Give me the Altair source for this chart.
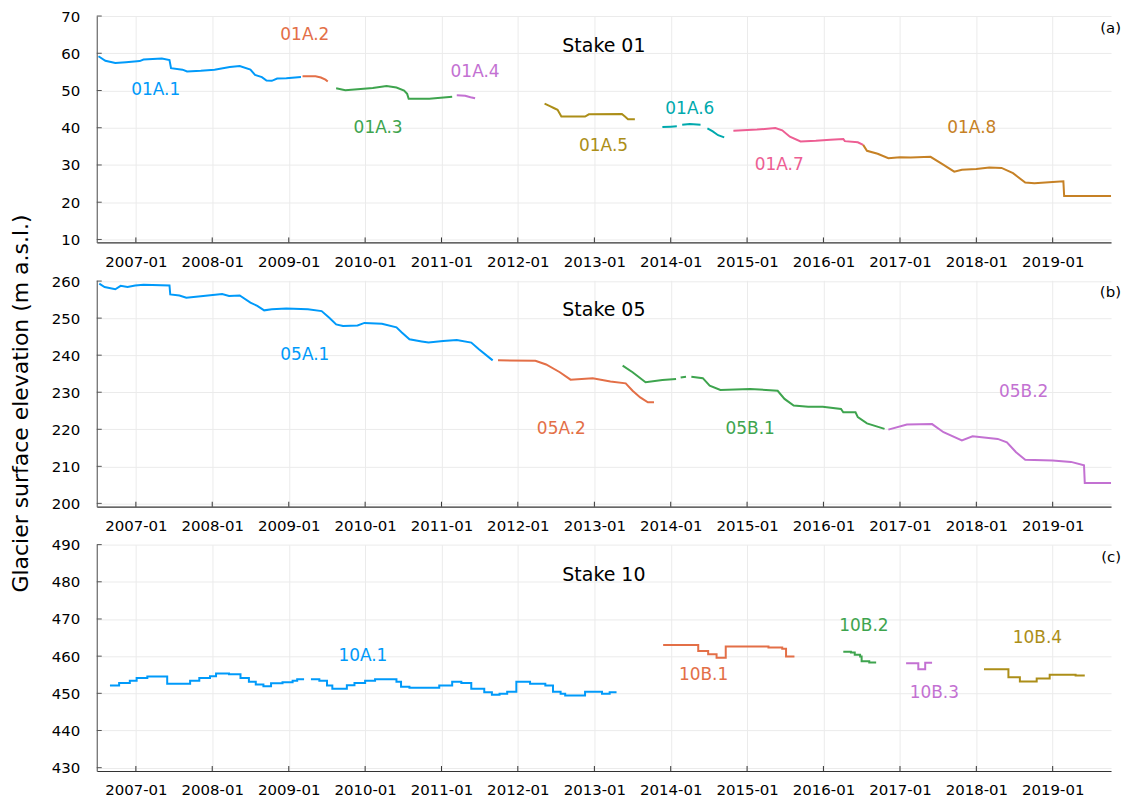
import pandas as pd
import altair as alt

# Plots.jl default palette
palette = ["#009AFA", "#E36F47", "#3EA44E", "#C371D2", "#AC8E18", "#00A9AD", "#ED5E93", "#C68125"]

# time in decimal years, surface elevation in m a.s.l. (None = gap in the record)
# ---- Stake 01
t_01A1 = [2006.51, 2006.60, 2006.73, 2006.87, 2007.05, 2007.10, 2007.34, 2007.44, 2007.46, 2007.61, 2007.67, 2007.85,
          2008.03, 2008.23, 2008.36, 2008.50, 2008.56, 2008.65, 2008.71, 2008.78, 2008.85, 2008.97, 2009.16]
z_01A1 = [59.2, 58.0, 57.4, 57.6, 57.9, 58.3, 58.6, 58.2, 56.0, 55.6, 55.1, 55.3,
          55.6, 56.3, 56.6, 55.6, 54.2, 53.6, 52.7, 52.6, 53.2, 53.3, 53.6]
t_01A2 = [2009.18, 2009.35, 2009.42, 2009.48, 2009.51]
z_01A2 = [53.8, 53.8, 53.5, 52.9, 52.4]
t_01A3 = [2009.62, 2009.74, 2009.94, 2010.10, 2010.28, 2010.41, 2010.51, 2010.55, 2010.57, 2010.84, 2011.14]
z_01A3 = [50.6, 50.1, 50.4, 50.7, 51.2, 50.8, 50.0, 49.1, 47.8, 47.8, 48.3]
t_01A4 = [2011.20, 2011.31, 2011.38, 2011.44]
z_01A4 = [48.7, 48.6, 48.2, 47.9]
t_01A5 = [2012.35, 2012.42, 2012.47, 2012.52, 2012.57, 2012.88, 2012.93, 2013.36, 2013.40, 2013.44, 2013.53]
z_01A5 = [46.5, 45.8, 45.3, 44.8, 43.0, 43.0, 43.6, 43.7, 43.0, 42.3, 42.3]
t_01A6 = [2013.89, 2014.00, 2014.08, 2014.11, 2014.15, 2014.25, 2014.39, 2014.43, 2014.48, 2014.55, 2014.62, 2014.70]
z_01A6 = [40.2, 40.3, 40.4, None, 40.8, 41.0, 40.8, None, 39.8, 39.0, 38.0, 37.4]
t_01A7 = [2014.82, 2015.13, 2015.37, 2015.46, 2015.56, 2015.70, 2015.90, 2016.09, 2016.26, 2016.28, 2016.45, 2016.52]
z_01A7 = [39.2, 39.5, 39.9, 39.3, 37.6, 36.3, 36.5, 36.8, 37.0, 36.4, 36.1, 35.4]
t_01A8 = [2016.52, 2016.57, 2016.71, 2016.85, 2017.00, 2017.14, 2017.40, 2017.55, 2017.71, 2017.81,
          2018.00, 2018.17, 2018.33, 2018.48, 2018.64, 2018.76, 2019.00, 2019.14, 2019.15, 2019.77]
z_01A8 = [35.4, 33.8, 33.0, 31.8, 32.1, 32.0, 32.2, 30.3, 28.2, 28.7,
          28.9, 29.3, 29.2, 27.8, 25.3, 25.1, 25.4, 25.6, 21.7, 21.7]

lab01 = ["01A.1", "01A.2", "01A.3", "01A.4", "01A.5", "01A.6", "01A.7", "01A.8"]
lab01_t = [2007.26, 2009.21, 2010.17, 2011.44, 2013.12, 2014.25, 2015.42, 2017.94]
lab01_z = [50, 65, 40, 55, 35, 45, 30, 40]

# ---- Stake 05
t_05A1 = [2006.52, 2006.59, 2006.73, 2006.80, 2006.89, 2006.99, 2007.10, 2007.44, 2007.45, 2007.57,
          2007.66, 2007.85, 2008.13, 2008.22, 2008.36, 2008.50, 2008.59, 2008.68, 2008.78, 2008.97,
          2009.25, 2009.43, 2009.53, 2009.62, 2009.71, 2009.90, 2009.99, 2010.22, 2010.41, 2010.48,
          2010.58, 2010.74, 2010.83, 2011.02, 2011.20, 2011.39, 2011.49, 2011.67]
z_05A1 = [259.3, 258.4, 257.8, 258.7, 258.4, 258.8, 259.0, 258.8, 256.4, 256.1,
          255.5, 255.9, 256.5, 256.0, 256.1, 254.2, 253.3, 252.1, 252.4, 252.6,
          252.4, 251.9, 250.1, 248.3, 247.9, 248.0, 248.7, 248.5, 247.5, 246.1,
          244.3, 243.7, 243.4, 243.8, 244.1, 243.4, 241.6, 238.6]
t_05A2 = [2011.74, 2012.23, 2012.37, 2012.55, 2012.69, 2012.98, 2013.21, 2013.41, 2013.50, 2013.60, 2013.70, 2013.78]
z_05A2 = [238.6, 238.5, 237.5, 235.4, 233.4, 233.8, 232.9, 232.4, 230.4, 228.6, 227.3, 227.3]
t_05B1 = [2013.37, 2013.50, 2013.67, 2013.89, 2014.07, 2014.10, 2014.13, 2014.20, 2014.23,
          2014.27, 2014.42, 2014.51, 2014.65, 2015.04, 2015.40, 2015.49, 2015.61, 2015.80, 2015.99,
          2016.23, 2016.26, 2016.42, 2016.45, 2016.57, 2016.80]
z_05B1 = [237.2, 235.4, 232.7, 233.3, 233.6, None, 234.0, 234.2, None,
          234.2, 233.8, 231.8, 230.6, 230.9, 230.4, 228.2, 226.4, 226.1, 226.1,
          225.5, 224.6, 224.6, 223.3, 221.6, 220.1]
t_05B2 = [2016.85, 2017.09, 2017.42, 2017.57, 2017.81, 2017.95, 2018.28, 2018.40, 2018.52, 2018.64,
          2019.00, 2019.24, 2019.41, 2019.42, 2019.77]
z_05B2 = [219.9, 221.3, 221.4, 219.2, 217.0, 218.1, 217.4, 216.5, 213.8, 211.8,
          211.6, 211.2, 210.3, 205.5, 205.5]

lab05 = ["05A.1", "05A.2", "05B.1", "05B.2"]
lab05_t = [2009.21, 2012.57, 2015.04, 2018.62]
lab05_z = [240, 220, 220, 230]

# ---- Stake 10
t_10A1 = [2006.66, 2006.78, 2006.92, 2007.01, 2007.15, 2007.41, 2007.71, 2007.83, 2007.97, 2008.05,
          2008.22, 2008.37, 2008.48, 2008.57, 2008.67, 2008.77, 2008.92, 2009.05, 2009.11, 2009.20,
          2009.25, 2009.29, 2009.40, 2009.50, 2009.57, 2009.76, 2009.86, 2010.00, 2010.13, 2010.41,
          2010.47, 2010.58, 2010.97, 2011.14, 2011.26, 2011.39, 2011.56, 2011.66, 2011.76, 2011.86,
          2011.98, 2012.16, 2012.36, 2012.46, 2012.56, 2012.62, 2012.88, 2013.10, 2013.20, 2013.29]
z_10A1 = [452.1, 452.8, 453.4, 454.1, 454.5, 452.6, 453.4, 454.1, 454.6, 455.3,
          455.1, 454.1, 453.1, 452.4, 451.9, 452.7, 453.0, 453.4, 453.8, 453.8,
          None, 453.8, 453.4, 452.1, 451.2, 452.2, 452.8, 453.4, 453.8, 453.1,
          451.8, 451.5, 452.1, 453.1, 452.8, 451.2, 450.3, 449.6, 449.9, 450.4,
          453.1, 452.6, 452.1, 450.4, 449.9, 449.4, 450.4, 449.9, 450.3, 450.3]
t_10B1 = [2013.90, 2014.36, 2014.49, 2014.60, 2014.72, 2015.28, 2015.46, 2015.51, 2015.62]
z_10B1 = [463.0, 461.4, 460.5, 459.6, 462.6, 462.3, 462.0, 459.9, 459.9]
t_10B2 = [2016.26, 2016.36, 2016.41, 2016.48, 2016.50, 2016.60, 2016.69]
z_10B2 = [461.2, 461.0, 460.4, 459.9, 458.6, 458.3, 458.3]
t_10B3 = [2017.08, 2017.24, 2017.33, 2017.42]
z_10B3 = [458.1, 456.5, 458.2, 458.2]
t_10B4 = [2018.10, 2018.42, 2018.57, 2018.79, 2018.96, 2019.30, 2019.42]
z_10B4 = [456.5, 454.3, 453.2, 454.0, 455.0, 454.8, 454.8]

lab10 = ["10A.1", "10B.1", "10B.2", "10B.3", "10B.4"]
lab10_t = [2009.97, 2014.43, 2016.53, 2017.45, 2018.80]
lab10_z = [460, 455, 468, 450, 465]

tick_years = list(range(2007, 2020))

W, H = 1017, 227
FONT = "DejaVu Sans"


def to_date(t):
    year = int(t)
    return pd.Timestamp(year=year, month=1, day=1) + pd.Timedelta(days=round((t - year) * 365.25, 2))


# colour of each record = its position within the stake
color_domain, color_range = [], []
for names in (lab01, lab05, lab10):
    for i, n in enumerate(names):
        color_domain.append(n)
        color_range.append(palette[i])
color_scale = alt.Scale(domain=color_domain, range=color_range)

x_domain = [alt.DateTime(year=2006, month=6, date=28), alt.DateTime(year=2019, month=10, date=7)]


def panel(series, lab_names, lab_t, lab_z, ylim, yticks, stake, letter, interp):
    rows = []
    for name, ts, zs in series:
        piece = 0
        for t, z in zip(ts, zs):
            if z is None:
                piece += 1
                continue
            rows.append({"series": name, "piece": f"{name}-{piece}", "date": to_date(t), "z": z})
    lines_df = pd.DataFrame(rows)
    labels_df = pd.DataFrame({"series": lab_names, "date": [to_date(t) for t in lab_t], "z": lab_z})
    xticks_df = pd.DataFrame({"date": [pd.Timestamp(year=y, month=1, day=1) for y in tick_years]})
    yticks_df = pd.DataFrame({"z": yticks})

    x = alt.X("date:T", scale=alt.Scale(domain=x_domain),
              axis=alt.Axis(values=[alt.DateTime(year=y, month=1, date=1) for y in tick_years],
                            format="%Y-%m", title=None))
    y = alt.Y("z:Q", scale=alt.Scale(domain=ylim, nice=False, zero=False),
              axis=alt.Axis(values=yticks, title=None))
    color = alt.Color("series:N", scale=color_scale, legend=None)

    lines = alt.Chart(lines_df).mark_line(strokeWidth=2, interpolate=interp, clip=True).encode(
        x=x, y=y, color=color, detail="piece:N")
    labels = alt.Chart(labels_df).mark_text(fontSize=17, font=FONT).encode(
        x=x, y=y, text="series:N", color=color)
    xt = alt.Chart(xticks_df).mark_rule(color="#333333").encode(
        x=x, y=alt.value(H), y2=alt.value(H - 5))
    yt = alt.Chart(yticks_df).mark_rule(color="#555555").encode(
        y=y, x=alt.value(0), x2=alt.value(5))
    title = alt.Chart(pd.DataFrame({"t": [stake]})).mark_text(
        fontSize=19, font=FONT, color="black", align="center", baseline="middle").encode(
        x=alt.value(W / 2), y=alt.value(30), text="t:N")
    tag = alt.Chart(pd.DataFrame({"t": [letter]})).mark_text(
        fontSize=15, font=FONT, color="black", align="right", baseline="middle").encode(
        x=alt.value(W + 10), y=alt.value(12), text="t:N")
    return alt.layer(lines, labels, xt, yt, title, tag).properties(width=W, height=H)


pa = panel([(n, t, z) for n, t, z in zip(lab01,
            [t_01A1, t_01A2, t_01A3, t_01A4, t_01A5, t_01A6, t_01A7, t_01A8],
            [z_01A1, z_01A2, z_01A3, z_01A4, z_01A5, z_01A6, z_01A7, z_01A8])],
           lab01, lab01_t, lab01_z, [9.2, 70], [10, 20, 30, 40, 50, 60, 70], "Stake 01", "(a)", "linear")
pb = panel([(n, t, z) for n, t, z in zip(lab05, [t_05A1, t_05A2, t_05B1, t_05B2],
                                          [z_05A1, z_05A2, z_05B1, z_05B2])],
           lab05, lab05_t, lab05_z, [199.1, 260.2], [200, 210, 220, 230, 240, 250, 260], "Stake 05", "(b)",
           "linear")
pc = panel([(n, t, z) for n, t, z in zip(lab10, [t_10A1, t_10B1, t_10B2, t_10B3, t_10B4],
                                          [z_10A1, z_10B1, z_10B2, z_10B3, z_10B4])],
           lab10, lab10_t, lab10_z, [429.1, 490], [430, 440, 450, 460, 470, 480, 490], "Stake 10", "(c)",
           "step-after")

chart = alt.vconcat(pa, pb, pc, spacing=4).properties(
    title=alt.TitleParams("Glacier surface elevation (m a.s.l.)", orient="left", anchor="middle",
                          font=FONT, fontSize=22, fontWeight="normal", color="#000000", offset=18)
).configure(
    font=FONT, padding={"left": 2, "top": 0, "right": 5, "bottom": 0}
).configure_view(strokeWidth=0).configure_axis(
    labelFont=FONT, labelFontSize=15, labelColor="#000000", gridColor="#ebebeb", gridWidth=1,
    tickSize=0, domainWidth=1.2
).configure_axisX(domainColor="#333333", labelPadding=12).configure_axisY(
    domainColor="#666666", labelPadding=17)

chart.save("out.html", embed_options={"renderer": "svg", "actions": False})
